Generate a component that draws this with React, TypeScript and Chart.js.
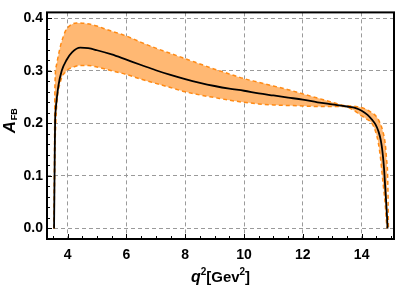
import React, { useEffect, useRef } from "react";
import { Chart, registerables } from "chart.js";

Chart.register(...registerables);

// Central curve (q^2, A_FB)
const centerX = [3.54, 3.55, 3.56, 3.575, 3.6, 3.62, 3.69, 3.8, 3.97, 4.15, 4.43, 4.7, 5.0, 5.5, 6, 6.5, 7, 7.5, 8, 8.5, 9, 9.5, 10, 10.5, 11, 11.5, 12, 12.5, 13, 13.5, 13.8, 14.0, 14.2, 14.35, 14.47, 14.57, 14.65, 14.71, 14.76, 14.8, 14.84, 14.87, 14.88];
const centerY = [0, 0.06, 0.12, 0.2, 0.228, 0.24, 0.272, 0.3, 0.321, 0.335, 0.344, 0.343, 0.339, 0.331, 0.321, 0.311, 0.301, 0.292, 0.284, 0.277, 0.271, 0.266, 0.262, 0.257, 0.253, 0.249, 0.245, 0.24, 0.236, 0.232, 0.229, 0.224, 0.216, 0.207, 0.198, 0.185, 0.168, 0.145, 0.115, 0.08, 0.045, 0.015, 0];

// Upper edge of the band
const upperX = [3.54, 3.548, 3.555, 3.57, 3.62, 3.69, 3.78, 3.86, 3.95, 4.08, 4.3, 4.6, 5.0, 5.3, 6, 6.5, 7, 7.5, 8, 8.5, 9, 9.5, 10, 10.5, 11, 11.5, 12, 12.5, 13, 13.4, 13.8, 14.1, 14.3, 14.5, 14.63, 14.72, 14.8, 14.85, 14.88, 14.9, 14.91];
const upperY = [0, 0.08, 0.15, 0.27, 0.31, 0.33, 0.352, 0.366, 0.378, 0.386, 0.391, 0.39, 0.385, 0.379, 0.366, 0.354, 0.343, 0.333, 0.323, 0.313, 0.303, 0.294, 0.285, 0.278, 0.271, 0.264, 0.256, 0.248, 0.24, 0.234, 0.232, 0.228, 0.222, 0.213, 0.2, 0.185, 0.162, 0.13, 0.107, 0.05, 0];

// Lower edge of the band
const lowerX = [3.54, 3.555, 3.57, 3.6, 3.63, 3.75, 3.97, 4.2, 4.43, 4.7, 5.0, 5.5, 6, 6.5, 7, 7.5, 8, 8.5, 9, 9.5, 10, 10.5, 11, 11.5, 12, 12.5, 13, 13.4, 13.7, 14.0, 14.2, 14.35, 14.47, 14.57, 14.65, 14.69, 14.75, 14.8, 14.84, 14.86];
const lowerY = [0, 0.08, 0.15, 0.2, 0.235, 0.278, 0.3, 0.307, 0.31, 0.31, 0.307, 0.3, 0.293, 0.284, 0.276, 0.268, 0.26, 0.254, 0.249, 0.244, 0.24, 0.237, 0.235, 0.234, 0.233, 0.232, 0.232, 0.232, 0.226, 0.214, 0.207, 0.2, 0.185, 0.162, 0.13, 0.107, 0.075, 0.047, 0.015, 0];

const xTicks = [4, 6, 8, 10, 12, 14];
const yTicks = [0.0, 0.1, 0.2, 0.3, 0.4];

const pts = (xs: number[], ys: number[]) => xs.map((x, i) => ({ x, y: ys[i] }));

const FONT = "'Liberation Sans', Arial, sans-serif";

const framePlugin = {
  id: "frameAndTitles",
  afterDraw(chart: any) {
    const { ctx, chartArea, scales } = chart;
    const { left, right, top, bottom } = chartArea;
    ctx.save();
    ctx.strokeStyle = "#000";
    ctx.lineWidth = 1;
    for (let v = 3.5; v <= 15.01; v += 0.5) {
      const px = Math.round(scales.x.getPixelForValue(v)) + 0.5;
      const major = Math.abs(v / 2 - Math.round(v / 2)) < 1e-6;
      const len = major ? 5 : 3;
      ctx.beginPath();
      ctx.moveTo(px, bottom);
      ctx.lineTo(px, bottom - len);
      ctx.stroke();
    }
    for (let i = -1; i <= 20; i++) {
      const v = i * 0.02;
      const py = Math.round(scales.y.getPixelForValue(v)) + 0.5;
      if (py < top || py > bottom) continue;
      const major = i % 5 === 0;
      const len = major ? 5 : 3;
      ctx.beginPath();
      ctx.moveTo(left, py);
      ctx.lineTo(left + len, py);
      ctx.stroke();
    }
    ctx.lineWidth = 2;
    ctx.strokeRect(left, top, right - left, bottom - top);

    // x title: q^2[Gev^2]
    ctx.fillStyle = "#000";
    ctx.textBaseline = "alphabetic";
    const parts: [string, string, number][] = [
      ["q", `italic bold 16px ${FONT}`, 0],
      ["2", `bold 10px ${FONT}`, -7],
      ["[Gev", `bold 15px ${FONT}`, 0],
      ["2", `bold 10px ${FONT}`, -7],
      ["]", `bold 15px ${FONT}`, 0],
    ];
    let total = 0;
    const widths = parts.map(([t, f]) => {
      ctx.font = f;
      const w = ctx.measureText(t).width;
      total += w;
      return w;
    });
    let x = (left + right) / 2 - total / 2;
    const baseY = 282;
    parts.forEach(([t, f, dy], i) => {
      ctx.font = f;
      ctx.fillText(t, x, baseY + dy);
      x += widths[i];
    });

    // y title: A_FB rotated
    ctx.translate(15, 121);
    ctx.rotate(-Math.PI / 2);
    ctx.font = `italic bold 17px ${FONT}`;
    const wA = ctx.measureText("A").width;
    ctx.font = `bold 9px ${FONT}`;
    const wFB = ctx.measureText("FB").width;
    const start = -(wA + wFB) / 2;
    ctx.font = `italic bold 17px ${FONT}`;
    ctx.fillText("A", start, 0);
    ctx.font = `bold 9px ${FONT}`;
    ctx.fillText("FB", start + wA + 0.5, 2);
    ctx.restore();
  },
};

export default function App() {
  const ref = useRef<HTMLCanvasElement>(null);
  useEffect(() => {
    document.body.style.margin = "0";
    const canvas = ref.current!;
    const orange = "#FF8A14";
    const chart = new Chart(canvas, {
      type: "line",
      data: {
        datasets: [
          {
            label: "center",
            data: pts(centerX, centerY),
            borderColor: "#000",
            borderWidth: 1.8,
            pointRadius: 0,
            fill: false,
            cubicInterpolationMode: "monotone",
          },
          {
            label: "lower",
            data: pts(lowerX, lowerY),
            borderColor: orange,
            borderWidth: 1.5,
            borderDash: [4, 3],
            pointRadius: 0,
            fill: false,
            cubicInterpolationMode: "monotone",
          },
          {
            label: "upper",
            data: pts(upperX, upperY),
            borderColor: orange,
            borderWidth: 1.5,
            borderDash: [4, 3],
            pointRadius: 0,
            fill: { target: 1 },
            backgroundColor: "rgb(255,184,115)",
            cubicInterpolationMode: "monotone",
          },
        ],
      },
      options: {
        responsive: false,
        animation: false,
        devicePixelRatio: 1,
        layout: { padding: { top: 4, right: 4, left: 0, bottom: 0 } },
        plugins: { legend: { display: false }, tooltip: { enabled: false } },
        scales: {
          x: {
            type: "linear",
            min: 3.3,
            max: 15.1,
            afterBuildTicks: (s: any) => {
              s.ticks = xTicks.map((v) => ({ value: v }));
            },
            afterFit: (s: any) => {
              s.height = 50;
            },
            grid: { color: "#9a9a9a", lineWidth: 1, drawTicks: false },
            border: { display: false, dash: [4, 3] },
            ticks: {
              padding: 8,
              color: "#000",
              font: { family: FONT, size: 14, weight: "bold" },
              callback: (v: any) => String(v),
            },
          },
          y: {
            type: "linear",
            min: -0.02,
            max: 0.411,
            afterBuildTicks: (s: any) => {
              s.ticks = yTicks.map((v) => ({ value: v }));
            },
            afterFit: (s: any) => {
              s.width = 47;
            },
            grid: { color: "#9a9a9a", lineWidth: 1, drawTicks: false },
            border: { display: false, dash: [4, 3] },
            ticks: {
              padding: 4,
              color: "#000",
              font: { family: FONT, size: 14, weight: "bold" },
              callback: (v: any) => Number(v).toFixed(1),
            },
          },
        },
      },
      plugins: [framePlugin],
    } as any);
    return () => chart.destroy();
  }, []);
  return (
    <div style={{ width: 398, height: 289 }}>
      <canvas ref={ref} width={398} height={289} style={{ width: 398, height: 289, display: "block" }} />
    </div>
  );
}
